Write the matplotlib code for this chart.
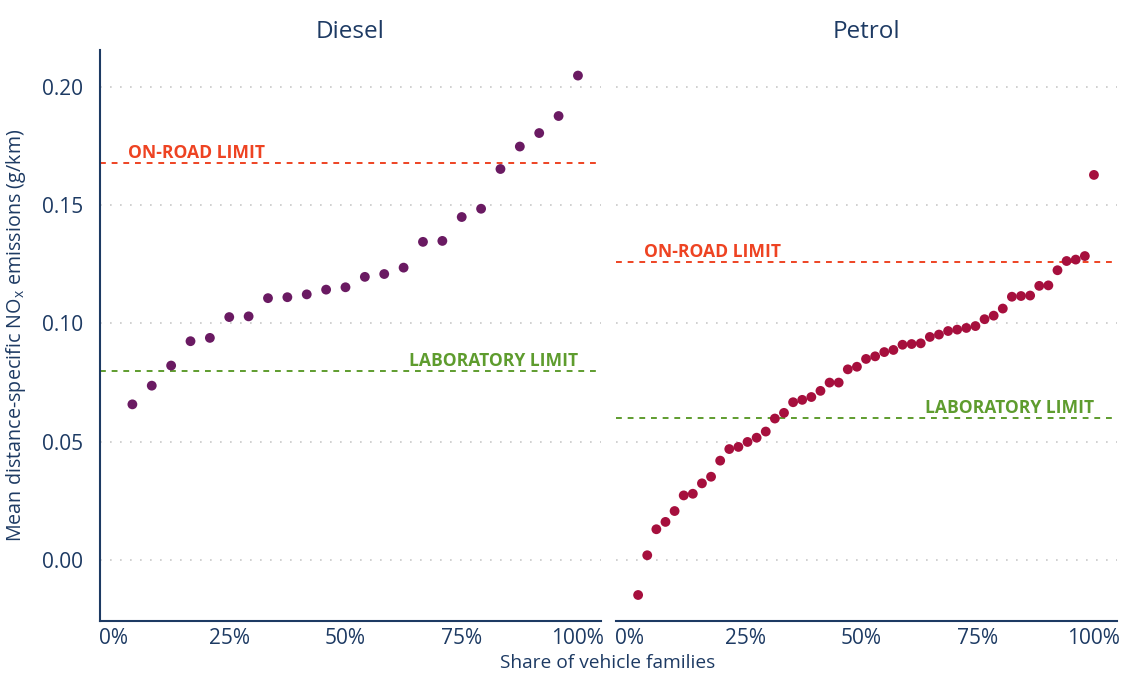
import matplotlib.pyplot as plt
import numpy as np

plt.rcParams['font.family'] = ['Open Sans', 'DejaVu Sans']

navy = '#1d3a63'
red = '#ee4322'
green = '#5e9c2e'

# mean NOx per vehicle family, sorted (g/km)
diesel = [0.0658, 0.0737, 0.0822, 0.0925, 0.0939, 0.1027, 0.1030, 0.1107,
          0.1111, 0.1123, 0.1143, 0.1153, 0.1197, 0.1209, 0.1236, 0.1345,
          0.1349, 0.1450, 0.1485, 0.1653, 0.1748, 0.1805, 0.1877, 0.2048]
petrol = [-0.0148, 0.0020, 0.0130, 0.0161, 0.0207, 0.0273, 0.0280, 0.0324,
          0.0352, 0.0420, 0.0469, 0.0478, 0.0499, 0.0517, 0.0543, 0.0598,
          0.0622, 0.0667, 0.0677, 0.0689, 0.0715, 0.0750, 0.0750, 0.0806,
          0.0817, 0.0850, 0.0861, 0.0879, 0.0888, 0.0910, 0.0913, 0.0916,
          0.0943, 0.0953, 0.0968, 0.0974, 0.0981, 0.0989, 0.1018, 0.1033,
          0.1063, 0.1113, 0.1116, 0.1118, 0.1159, 0.1161, 0.1225, 0.1264,
          0.1270, 0.1285, 0.1628]

panels = ['Diesel', 'Petrol']
series = [diesel, petrol]
dot_colors = ['#6a1a62', '#a60f3d']
onroad_limit = [0.168, 0.126]
lab_limit = [0.08, 0.06]

yticks = [0.0, 0.05, 0.10, 0.15, 0.20]
xticks = [0, 0.25, 0.5, 0.75, 1.0]
xticklabels = ['0%', '25%', '50%', '75%', '100%']

fig = plt.figure(figsize=(11.21, 6.77), dpi=100)
axes = [fig.add_axes([0.0892, 0.0827, 0.4469, 0.8434]),
        fig.add_axes([0.5495, 0.0827, 0.4469, 0.8434])]

for k, ax in enumerate(axes):
    vals = series[k]
    n = len(vals)
    share = np.arange(1, n + 1) / n
    ax.set_xlim(-0.028, 1.0495)
    ax.set_ylim(-0.0258, 0.2156)
    ax.set_yticks(yticks)
    for yt in yticks:
        ax.axhline(yt, color='#c8c8c8', lw=1.2, ls=(0, (1, 5)), zorder=1)
    ax.axhline(onroad_limit[k], color=red, lw=1.4, ls=(0, (3, 3)), zorder=2)
    ax.axhline(lab_limit[k], color=green, lw=1.4, ls=(0, (3, 3)), zorder=2)
    ax.text(0.032, onroad_limit[k] + 0.0003, 'ON-ROAD LIMIT', color=red,
            fontsize=12.6, fontweight='bold', ha='left', va='bottom')
    ax.text(1.0, lab_limit[k] + 0.0003, 'LABORATORY LIMIT', color=green,
            fontsize=12.6, fontweight='bold', ha='right', va='bottom')
    ax.scatter(share, vals, s=50, color=dot_colors[k], edgecolors='none', zorder=3)
    ax.set_xticks(xticks)
    ax.set_xticklabels(xticklabels)
    ax.tick_params(length=0, labelsize=15, colors=navy)
    ax.tick_params(axis='x', pad=5)
    ax.tick_params(axis='y', pad=12)
    ax.set_title(panels[k], fontsize=17.5, color=navy, pad=9)
    for s in ['top', 'right']:
        ax.spines[s].set_visible(False)
    ax.spines['bottom'].set_color(navy)
    ax.spines['bottom'].set_linewidth(1.5)
    ax.spines['left'].set_color(navy)
    ax.spines['left'].set_linewidth(1.5)

axes[0].set_yticklabels(['0.00', '0.05', '0.10', '0.15', '0.20'])
axes[0].set_ylabel('Mean distance-specific NO$_\\mathregular{x}$ emissions (g/km)',
                   fontsize=14.2, color=navy, labelpad=10)
axes[1].spines['left'].set_visible(False)
axes[1].tick_params(axis='y', labelleft=False)

fig.text(0.542, 0.008, 'Share of vehicle families', fontsize=13.8, color=navy,
         ha='center', va='bottom')

fig.savefig('out.png', dpi=100)
